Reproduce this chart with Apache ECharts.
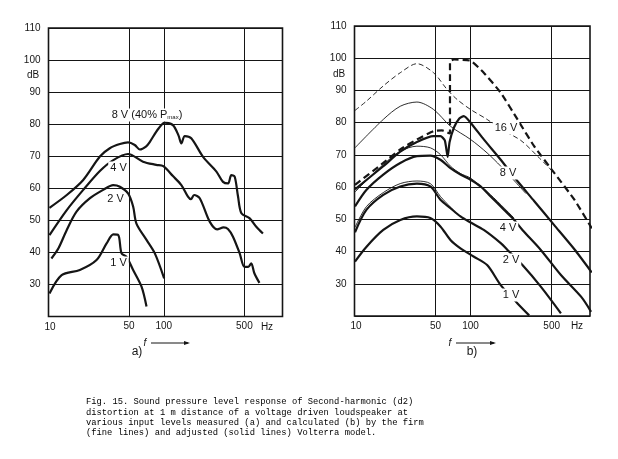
<!DOCTYPE html>
<html><head><meta charset="utf-8">
<script src="https://cdn.jsdelivr.net/npm/echarts@6/dist/echarts.min.js"></script>
<style>html,body{margin:0;padding:0;background:#fff}#c{width:618px;height:459px}</style>
</head><body><div id="c"></div>
<script>
// ---------- tick labels ----------
const xTickValues = [50, 100, 500];
const xFirstTick = 10;
const yMin = 20, yMax = 110, yStep = 10;

// ---------- panel a) measured ----------
const a8Freq = [10.2, 14.4, 20, 27.9, 34, 41.6, 49, 56, 62, 70, 75.7, 89, 102, 120, 134, 142, 152, 173, 219, 286, 326, 361, 385, 412, 440, 471, 556, 634, 724];
const a8Db   = [53.9, 57.9, 62.6, 69.9, 72.5, 73.8, 74.3, 73.5, 72.1, 73.0, 74.5, 78.4, 80.5, 79.7, 76.5, 74.0, 76.3, 75.6, 69.8, 65.2, 62.0, 61.5, 64.1, 63.6, 57.5, 52.2, 50.6, 48.0, 45.9];
const a4Freq = [10.2, 14.4, 20, 27.9, 36.5, 49, 66, 86, 99, 120, 142, 162, 172, 183, 205, 250, 290, 330, 360, 398, 455, 500, 540, 573, 610, 675];
const a4Db   = [45.4, 53.2, 59.5, 65.4, 68.8, 70.7, 68.3, 67.3, 66.9, 63.8, 61.0, 57.4, 56.6, 57.9, 56.9, 49.6, 47.2, 47.8, 47.3, 44.9, 39.7, 35.5, 35.5, 36.6, 33.5, 30.5];
const a2Freq = [10.6, 12.2, 14.4, 17.5, 22.9, 29.8, 36.4, 41.6, 49, 54.2, 57.9, 70.8, 83.6, 100.7];
const a2Db   = [38.1, 41.3, 47.0, 52.7, 56.9, 59.5, 61.0, 60.5, 58.4, 54.3, 49.0, 43.9, 39.7, 31.9];
const a1Freq = [10.2, 13, 18.7, 26.1, 31.9, 36.5, 40.3, 43, 47.5, 54.2, 64.1, 70.8];
const a1Db   = [27.2, 32.9, 34.5, 37.6, 42.8, 45.6, 45.4, 39.7, 38.6, 34.5, 29.3, 23.1];

// ---------- panel b) calculated ----------
const b16FineFreq  = [10.1, 12.7, 17.7, 24.8, 34.5, 48, 62.8, 76.6, 100, 139, 182, 271, 380, 526];
const b16FineDb    = [83.8, 86.7, 91.4, 95.5, 98.3, 95.5, 90.3, 87.2, 84.1, 81.0, 78.0, 74.5, 69.5, 64.4];
const b16ThickFreq = [10.1, 17.7, 24.8, 34.5, 48, 56.9, 62.8, 66.5, 66.5, 72, 100, 130, 182, 254, 353, 526, 785, 1109];
const b16ThickDb   = [60.7, 67.5, 71.7, 74.8, 77.4, 77.6, 77.0, 76.6, 99.0, 99.6, 99.2, 95.5, 89.3, 81.0, 72.7, 64.4, 56.1, 47.2];
const b8FineFreq   = [10.1, 17.7, 24.8, 34.5, 48, 67.1, 100, 139, 182, 245, 300];
const b8FineDb     = [72.2, 81.0, 85.1, 86.4, 84.1, 78.9, 74.8, 70.6, 66.5, 61.5, 58.0];
const b8ThickFreq  = [10.1, 17.7, 24.8, 34.5, 48, 55, 60, 63.5, 66, 72, 80, 87.5, 100, 130, 182, 245, 353, 526, 785, 1109];
const b8ThickDb    = [59.3, 66.5, 71, 74, 75.8, 75.8, 74.5, 69.4, 74, 78.5, 81.3, 82.0, 80, 74.8, 68.5, 62.5, 55.7, 48.2, 40.7, 33.5];
const b4FineFreq   = [10.1, 17.7, 24.8, 34.5, 45, 55, 67.1, 81.9, 100, 149, 237];
const b4FineDb     = [58.5, 67.0, 71.1, 72.7, 72.2, 70.1, 66.5, 64.2, 62.8, 57.6, 50.4];
const b4ThickFreq  = [10.1, 12.7, 17.7, 24.8, 34.5, 45, 55, 67.1, 81.9, 100, 122, 149, 194, 237, 280, 403, 601, 896, 1094];
const b4ThickDb    = [54.0, 59.2, 63.9, 67.5, 69.6, 69.8, 68.5, 65.9, 63.9, 62.3, 60.2, 57.1, 53.0, 49.9, 46.7, 40.5, 32.7, 26.0, 21.3];
const b2FineFreq   = [10.1, 12.7, 17.7, 24.8, 34.5, 45, 55, 67.1];
const b2FineDb     = [47.5, 54.0, 58.3, 61.1, 61.9, 61.1, 57.1, 53.8];
const b2ThickFreq  = [10.1, 12.7, 17.7, 24.8, 34.5, 45, 55, 67.1, 81.9, 100, 130, 182, 208, 280, 403, 601];
const b2ThickDb    = [46.0, 53.0, 57.6, 60.2, 61.1, 60.2, 56.1, 53.5, 50.9, 49.0, 46.7, 42.6, 40.5, 35.8, 29.1, 20.8];
const b1ThickFreq  = [10.1, 12.7, 17.7, 24.8, 34.5, 45, 55, 67.1, 81.9, 107, 139, 182, 254, 320];
const b1ThickDb    = [36.9, 41.5, 46.7, 49.8, 50.9, 50.4, 47.8, 43.6, 41.0, 38.4, 35.8, 29.6, 23.9, 20.2];

// ---------- build ----------
const FONT = '"Liberation Sans", Arial, sans-serif';
const INK = '#151515';
function zip(f, d) { return f.map((x, i) => [x, d[i]]); }

function xAxis(gi) {
  return { type: 'log', logBase: 10, gridIndex: gi, min: 10, max: 1070,
    axisLine: { show: false }, axisTick: { show: false }, axisLabel: { show: false }, splitLine: { show: false } };
}
function yAxis(gi) {
  return { type: 'value', gridIndex: gi, min: yMin, max: yMax, interval: yStep,
    axisLine: { show: false }, axisTick: { show: false },
    axisLabel: { color: INK, fontSize: 10, fontFamily: FONT, margin: 8,
      formatter: v => (v === yMin ? '' : String(v)) },
    splitLine: { lineStyle: { color: INK, width: 1 } } };
}
function vGrid() {
  return { symbol: 'none', silent: true, animation: false,
    lineStyle: { color: INK, width: 1, type: 'solid' },
    label: { show: true, position: 'start', distance: 5, color: INK, fontSize: 10, fontFamily: FONT,
      formatter: p => String(p.value) },
    data: xTickValues.map(v => ({ xAxis: v })) };
}
const styles = {
  thick: { color: INK, width: 2.2, type: 'solid' },
  fine: { color: INK, width: 0.9, type: 'solid' },
  thickDash: { color: INK, width: 2.2, type: [7, 4] },
  fineDash: { color: INK, width: 0.9, type: [5, 3] }
};
function line(gi, f, d, st, extra) {
  return Object.assign({ type: 'line', xAxisIndex: gi, yAxisIndex: gi, data: zip(f, d),
    symbol: 'none', smooth: 0.3, clip: true, animation: false, silent: true,
    lineStyle: styles[st] }, extra || {});
}

const series = [
  line(0, a8Freq, a8Db, 'thick', { markLine: vGrid() }),
  line(0, a4Freq, a4Db, 'thick'),
  line(0, a2Freq, a2Db, 'thick'),
  line(0, a1Freq, a1Db, 'thick'),
  line(1, b16FineFreq, b16FineDb, 'fineDash', { markLine: vGrid() }),
  line(1, b16ThickFreq, b16ThickDb, 'thickDash', { smooth: 0.15 }),
  line(1, b8FineFreq, b8FineDb, 'fine'),
  line(1, b8ThickFreq, b8ThickDb, 'thick', { smooth: 0.2 }),
  line(1, b4FineFreq, b4FineDb, 'fine'),
  line(1, b4ThickFreq, b4ThickDb, 'thick'),
  line(1, b2FineFreq, b2FineDb, 'fine'),
  line(1, b2ThickFreq, b2ThickDb, 'thick'),
  line(1, b1ThickFreq, b1ThickDb, 'thick')
];

function txt(x, y, s, opt) {
  return Object.assign({ type: 'text', x: x, y: y, z: 100,
    style: Object.assign({ text: s, fill: INK, font: '10px ' + FONT, align: 'center', verticalAlign: 'middle' }, (opt && opt.style) || {}) });
}
function curveLabel(x, y, s) {
  return { type: 'text', x: x, y: y, z: 100,
    style: { text: s, fill: INK, font: '11px ' + FONT, align: 'center', verticalAlign: 'middle',
      backgroundColor: '#fff', padding: [1, 2] } };
}

const caption = [
  'Fig. 15. Sound pressure level response of Second-harmonic (d2)',
  'distortion at 1 m distance of a voltage driven loudspeaker at',
  'various input levels measured (a) and calculated (b) by the firm',
  '(fine lines) and adjusted (solid lines) Volterra model.'
].join('\n');

const graphic = [
  txt(33, 75, 'dB'), txt(339, 74, 'dB'),
  txt(50, 327.5, String(xFirstTick)), txt(356, 326, String(xFirstTick)),
  txt(267, 327.5, 'Hz'), txt(577, 326, 'Hz'),
  // f ----> arrows
  { type: 'text', x: 145, y: 343, z: 100, style: { text: 'f', fill: INK, font: 'italic 10px ' + FONT, align: 'center', verticalAlign: 'middle' } },
  { type: 'line', z: 100, shape: { x1: 151, y1: 343, x2: 188, y2: 343 }, style: { stroke: INK, lineWidth: 1 } },
  { type: 'polygon', z: 100, shape: { points: [[190, 343], [184, 341], [184, 345]] }, style: { fill: INK } },
  { type: 'text', x: 450, y: 343, z: 100, style: { text: 'f', fill: INK, font: 'italic 10px ' + FONT, align: 'center', verticalAlign: 'middle' } },
  { type: 'line', z: 100, shape: { x1: 456, y1: 343, x2: 494, y2: 343 }, style: { stroke: INK, lineWidth: 1 } },
  { type: 'polygon', z: 100, shape: { points: [[496, 343], [490, 341], [490, 345]] }, style: { fill: INK } },
  txt(137, 352, 'a)', { style: { font: '12px ' + FONT } }),
  txt(472, 352, 'b)', { style: { font: '12px ' + FONT } }),
  // curve labels
  { type: 'text', x: 147, y: 115, z: 100, style: { text: '8 V (40% P{s|max})', rich: { s: { fontSize: 6, verticalAlign: 'bottom', padding: [5, 0, 0, 0] } },
      fill: INK, font: '11px ' + FONT, align: 'center', verticalAlign: 'middle', backgroundColor: '#fff', padding: [1, 2] } },
  curveLabel(118.5, 168, '4 V'),
  curveLabel(115.5, 199, '2 V'),
  curveLabel(118.5, 263, '1 V'),
  curveLabel(506, 128, '16 V'),
  curveLabel(508, 173, '8 V'),
  curveLabel(508, 228, '4 V'),
  curveLabel(511, 260, '2 V'),
  curveLabel(511, 295, '1 V'),
  { type: 'text', x: 86, y: 397, z: 100, style: { text: caption, fill: '#000', font: '8.8px "Liberation Mono", monospace', lineHeight: 10.3, align: 'left', verticalAlign: 'top' } }
];

const chart = echarts.init(document.getElementById('c'));
chart.setOption({
  animation: false,
  backgroundColor: '#fff',
  grid: [
    { left: 48.5, top: 28, width: 234, height: 288.5, show: true, borderColor: INK, borderWidth: 1.6, backgroundColor: 'transparent' },
    { left: 354.5, top: 26, width: 235.5, height: 290, show: true, borderColor: INK, borderWidth: 1.6, backgroundColor: 'transparent' }
  ],
  xAxis: [xAxis(0), xAxis(1)],
  yAxis: [yAxis(0), yAxis(1)],
  series: series,
  graphic: graphic
});
</script>
</body></html>
